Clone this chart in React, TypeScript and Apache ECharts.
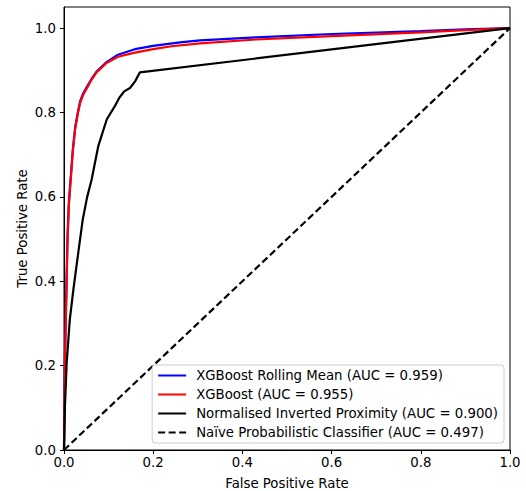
import React, { useEffect, useRef } from "react";
import * as echarts from "echarts";

const rollingFpr = [0, 0.001, 0.002, 0.004, 0.006, 0.008, 0.011, 0.015, 0.02, 0.025, 0.031, 0.036, 0.043, 0.051, 0.062, 0.073, 0.096, 0.121, 0.159, 0.2, 0.26, 0.305, 0.43, 0.6, 0.8, 0.9, 1];
const rollingTpr = [0, 0.12, 0.22, 0.32, 0.42, 0.51, 0.59, 0.645, 0.715, 0.765, 0.8, 0.826, 0.845, 0.86, 0.88, 0.897, 0.92, 0.937, 0.95, 0.958, 0.966, 0.971, 0.978, 0.986, 0.993, 0.997, 1];

const xgbFpr = [0, 0.001, 0.002, 0.004, 0.006, 0.008, 0.011, 0.015, 0.02, 0.025, 0.031, 0.036, 0.043, 0.051, 0.062, 0.073, 0.096, 0.121, 0.159, 0.2, 0.241, 0.305, 0.43, 0.6, 0.8, 0.9, 1];
const xgbTpr = [0, 0.1, 0.2, 0.3, 0.4, 0.5, 0.58, 0.64, 0.71, 0.76, 0.797, 0.822, 0.842, 0.857, 0.878, 0.895, 0.918, 0.932, 0.942, 0.95, 0.957, 0.964, 0.973, 0.981, 0.99, 0.995, 1];

const proxFpr = [0, 0.002, 0.006, 0.013, 0.021, 0.032, 0.042, 0.052, 0.062, 0.077, 0.096, 0.114, 0.124, 0.135, 0.148, 0.159, 0.165, 0.17, 1];
const proxTpr = [0, 0.1, 0.207, 0.309, 0.38, 0.468, 0.546, 0.6, 0.641, 0.721, 0.784, 0.815, 0.835, 0.85, 0.858, 0.873, 0.885, 0.895, 1];

const naiveFpr = [0, 1];
const naiveTpr = [0, 1];

const seriesNames = [
  "XGBoost Rolling Mean (AUC = 0.959)",
  "XGBoost (AUC = 0.955)",
  "Normalised Inverted Proximity (AUC = 0.900)",
  "Naïve Probabilistic Classifier (AUC = 0.497)",
];

const tickValues = [0, 0.2, 0.4, 0.6, 0.8, 1.0];

const zip = (xs: number[], ys: number[]) => xs.map((x, i) => [x, ys[i]]);

const FONT = "DejaVu Sans";
const FS = 13.3;

export default function App() {
  const ref = useRef<HTMLDivElement>(null);
  useEffect(() => {
    if (!ref.current) return;
    const chart = echarts.init(ref.current, undefined, { renderer: "svg" });
    const lineSeries = (name: string, data: number[][], color: string, type: any = "solid") => ({
      name,
      type: "line",
      data,
      symbol: "none",
      showSymbol: false,
      lineStyle: { color, width: 2.2, type },
      itemStyle: { color },
      z: 2,
    });
    chart.setOption({
      animation: false,
      backgroundColor: "#fff",
      grid: {
        left: 64,
        right: 16,
        top: 7,
        bottom: 41,
        outerBoundsMode: "none",
        show: true,
        borderColor: "#000",
        borderWidth: 1,
        backgroundColor: "transparent",
      },
      xAxis: {
        type: "value",
        min: 0,
        max: 1,
        interval: 0.2,
        name: "False Positive Rate",
        nameLocation: "middle",
        nameGap: 27,
        nameMoveOverlap: false,
        nameTextStyle: { fontFamily: FONT, fontSize: FS, color: "#000" },
        axisLine: { show: true, lineStyle: { color: "#000", width: 1 } },
        axisTick: { show: true, length: 4, inside: false, lineStyle: { color: "#000" }, customValues: tickValues },
        axisLabel: { fontFamily: FONT, fontSize: FS, color: "#000", margin: 6, formatter: (v: number) => v.toFixed(1), customValues: tickValues },
        splitLine: { show: false },
      },
      yAxis: {
        type: "value",
        min: 0,
        max: 1.05,
        interval: 0.2,
        name: "True Positive Rate",
        nameLocation: "middle",
        nameGap: 35,
        nameMoveOverlap: false,
        nameTextStyle: { fontFamily: FONT, fontSize: FS, color: "#000" },
        axisLine: { show: true, lineStyle: { color: "#000", width: 1 } },
        axisTick: { show: true, length: 4, inside: false, lineStyle: { color: "#000" }, customValues: tickValues },
        axisLabel: { fontFamily: FONT, fontSize: FS, color: "#000", margin: 8, formatter: (v: number) => v.toFixed(1), customValues: tickValues },
        splitLine: { show: false },
      },
      legend: {
        orient: "vertical",
        right: 22,
        bottom: 48,
        padding: [4, 6, 4, 5],
        itemGap: 6,
        itemWidth: 28,
        itemHeight: 14,
        borderColor: "#cccccc",
        borderWidth: 1,
        borderRadius: 3,
        backgroundColor: "rgba(255,255,255,0.8)",
        itemStyle: { opacity: 0 },
        textStyle: { fontFamily: FONT, fontSize: FS, color: "#000", padding: [0, 0, 0, 5] },
        data: seriesNames,
      },
      series: [
        lineSeries(seriesNames[0], zip(rollingFpr, rollingTpr), "#0000ff"),
        lineSeries(seriesNames[1], zip(xgbFpr, xgbTpr), "#ff0000"),
        lineSeries(seriesNames[2], zip(proxFpr, proxTpr), "#000000"),
        lineSeries(seriesNames[3], zip(naiveFpr, naiveTpr), "#000000", [7, 3.5]),
      ],
    });
    return () => chart.dispose();
  }, []);
  return <div ref={ref} style={{ width: 526, height: 491, position: "absolute", left: 0, top: 0 }} />;
}
